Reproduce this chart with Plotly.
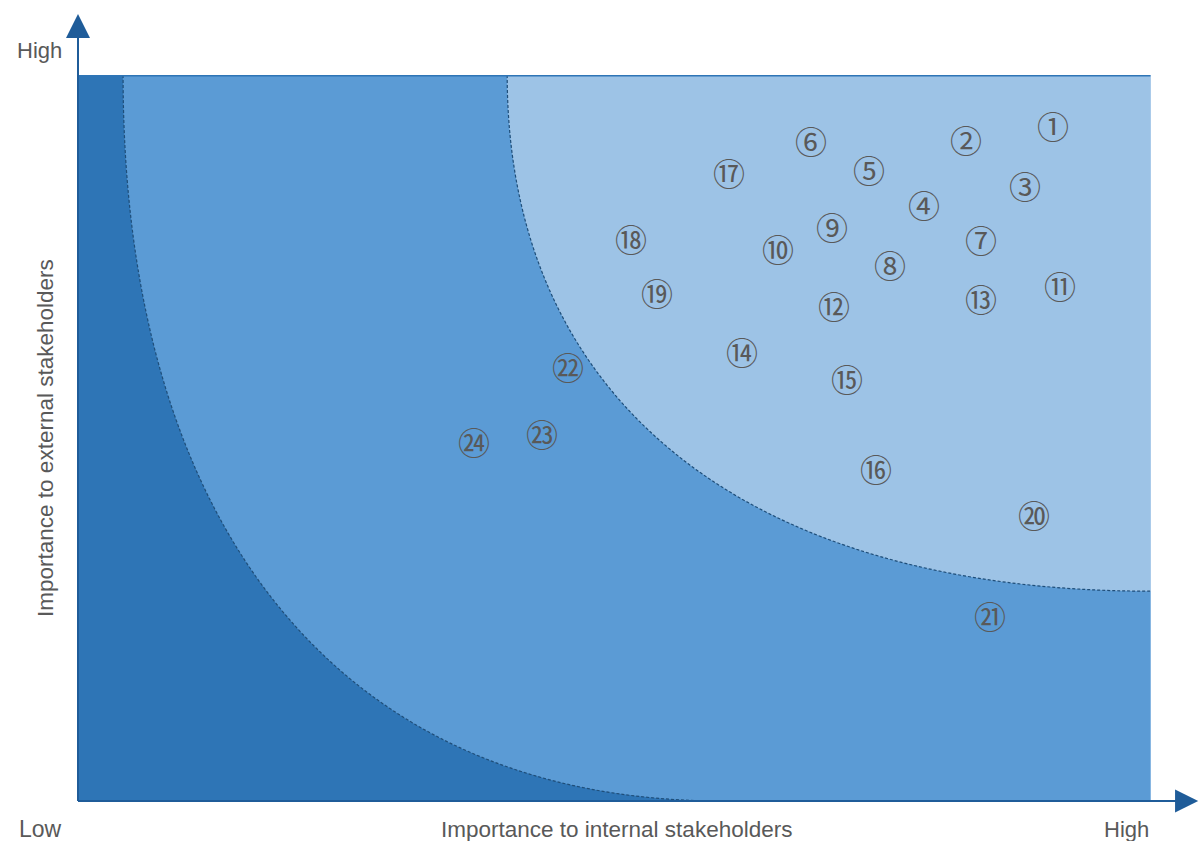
import plotly.graph_objects as go

# ---- data (issue number -> position on matrix, 0..10 scale) ----
labels = ["①", "②", "③", "④", "⑤", "⑥", "⑦", "⑧", "⑨", "⑩",
          "⑪", "⑫", "⑬", "⑭", "⑮", "⑯", "⑰", "⑱", "⑲", "⑳",
          "㉑", "㉒", "㉓", "㉔"]
internal = [9.09, 8.28, 8.83, 7.88, 7.37, 6.83, 8.42, 7.57, 7.03, 6.52,
            9.15, 7.05, 8.42, 6.19, 7.17, 7.44, 6.07, 5.15, 5.40, 8.91,
            8.50, 4.57, 4.32, 3.69]
external = [9.28, 9.09, 8.46, 8.20, 8.68, 9.08, 7.71, 7.37, 7.89, 7.59,
            7.08, 6.80, 6.90, 6.17, 5.80, 4.56, 8.64, 7.73, 6.98, 3.93,
            2.53, 5.96, 5.04, 4.93]

x_title = "Importance to internal stakeholders"
y_title = "Importance to external stakeholders"
low_label = "Low"
high_label = "High"

# ---- region boundaries (quarter-curves) ----
MID_X0, MID_X1 = 0.42, 6.0       # middle band: top start x, bottom end x
LIGHT_X0, LIGHT_Y1 = 4.0, 2.89   # light band: top start x, right end y
K = 0.63

DARK = "#2e75b6"
MID = "#5b9bd5"
LIGHT = "#9dc3e6"
AXIS = "#1f5c99"
TEXT = "#595959"
DASH = "#1f4e79"

def fmt(x, y):
    return f"{x:.4f},{y:.4f}"

mid_curve = ("M " + fmt(MID_X0, 10) + " C " + fmt(MID_X0, 10 - K * 10) + " "
             + fmt(MID_X1 - K * (MID_X1 - MID_X0), 0) + " " + fmt(MID_X1, 0))
mid_fill = mid_curve + " L " + fmt(10, 0) + " L " + fmt(10, 10) + " Z"

light_curve = ("M " + fmt(LIGHT_X0, 10) + " C " + fmt(LIGHT_X0, 10 - K * (10 - LIGHT_Y1)) + " "
               + fmt(10 - K * (10 - LIGHT_X0), LIGHT_Y1) + " " + fmt(10, LIGHT_Y1))
light_fill = light_curve + " L " + fmt(10, 10) + " Z"

fig = go.Figure()

fig.add_trace(go.Scatter(
    x=internal, y=external, mode="markers", marker=dict(size=1, opacity=0),
    hoverinfo="skip", showlegend=False,
))

shapes = [
    dict(type="rect", xref="x", yref="y", x0=0, y0=0, x1=10, y1=10,
         fillcolor=DARK, line=dict(width=0), layer="below"),
    dict(type="path", xref="x", yref="y", path=mid_fill,
         fillcolor=MID, line=dict(width=0), layer="below"),
    dict(type="path", xref="x", yref="y", path=light_fill,
         fillcolor=LIGHT, line=dict(width=0), layer="below"),
    dict(type="path", xref="x", yref="y", path=mid_curve,
         line=dict(color=DASH, width=1.2, dash="3px,2px"), layer="below"),
    dict(type="path", xref="x", yref="y", path=light_curve,
         line=dict(color=DASH, width=1.2, dash="3px,2px"), layer="below"),
    # top border
    dict(type="line", xref="x", yref="y", x0=0, y0=10, x1=10, y1=10,
         line=dict(color=DARK, width=3), layer="below"),
    # right thin border
    dict(type="line", xref="x", yref="y", x0=10, y0=0, x1=10, y1=10,
         line=dict(color="#b8d3ee", width=1), layer="below"),
    # y axis line + arrow
    dict(type="line", xref="paper", yref="paper", x0=0, y0=0, x1=0, y1=1.055,
         line=dict(color=AXIS, width=2)),
    dict(type="path", xref="paper", yref="paper",
         path="M -0.0112,1.0510 L 0.0112,1.0510 L 0,1.0840 Z",
         fillcolor=AXIS, line=dict(width=0)),
    # x axis line + arrow
    dict(type="line", xref="paper", yref="paper", x0=0, y0=0, x1=1.026, y1=0,
         line=dict(color=AXIS, width=2)),
    dict(type="path", xref="paper", yref="paper",
         path="M 1.0224,-0.0160 L 1.0224,0.0160 L 1.0440,0 Z",
         fillcolor=AXIS, line=dict(width=0)),
]

font_main = "Liberation Sans, Arial, sans-serif"
annotations = [
    dict(text=high_label, xref="paper", yref="paper", x=-0.0135, y=1.0344,
         xanchor="right", yanchor="middle", showarrow=False,
         font=dict(family=font_main, size=22, color=TEXT)),
    dict(text=low_label, xref="paper", yref="paper", x=-0.0565, y=-0.0386,
         xanchor="left", yanchor="middle", showarrow=False,
         font=dict(family=font_main, size=23, color=TEXT)),
    dict(text=high_label, xref="paper", yref="paper", x=1.0, y=-0.0386,
         xanchor="right", yanchor="middle", showarrow=False,
         font=dict(family=font_main, size=22, color=TEXT)),
    dict(text=x_title, xref="paper", yref="paper", x=0.502, y=-0.0386,
         xanchor="center", yanchor="middle", showarrow=False,
         font=dict(family=font_main, size=22.5, color=TEXT)),
    dict(text=y_title, xref="paper", yref="paper", x=-0.0308, y=0.5,
         xanchor="center", yanchor="middle", showarrow=False, textangle=-90,
         font=dict(family=font_main, size=22.5, color=TEXT)),
]

# circled issue numbers placed at the data points
for lab, xv, yv in zip(labels, internal, external):
    annotations.append(dict(
        text=lab, xref="x", yref="y", x=xv, y=yv, showarrow=False,
        xanchor="center", yanchor="middle", yshift=2,
        font=dict(family="Noto Sans CJK SC", size=32, color=TEXT),
    ))

fig.update_layout(
    width=1201, height=841,
    margin=dict(l=78, r=50, t=75, b=40),
    paper_bgcolor="white", plot_bgcolor="white",
    xaxis=dict(range=[0, 10], visible=False, fixedrange=True),
    yaxis=dict(range=[0, 10], visible=False, fixedrange=True),
    shapes=shapes, annotations=annotations,
    showlegend=False,
)

fig.write_html("out.html")
